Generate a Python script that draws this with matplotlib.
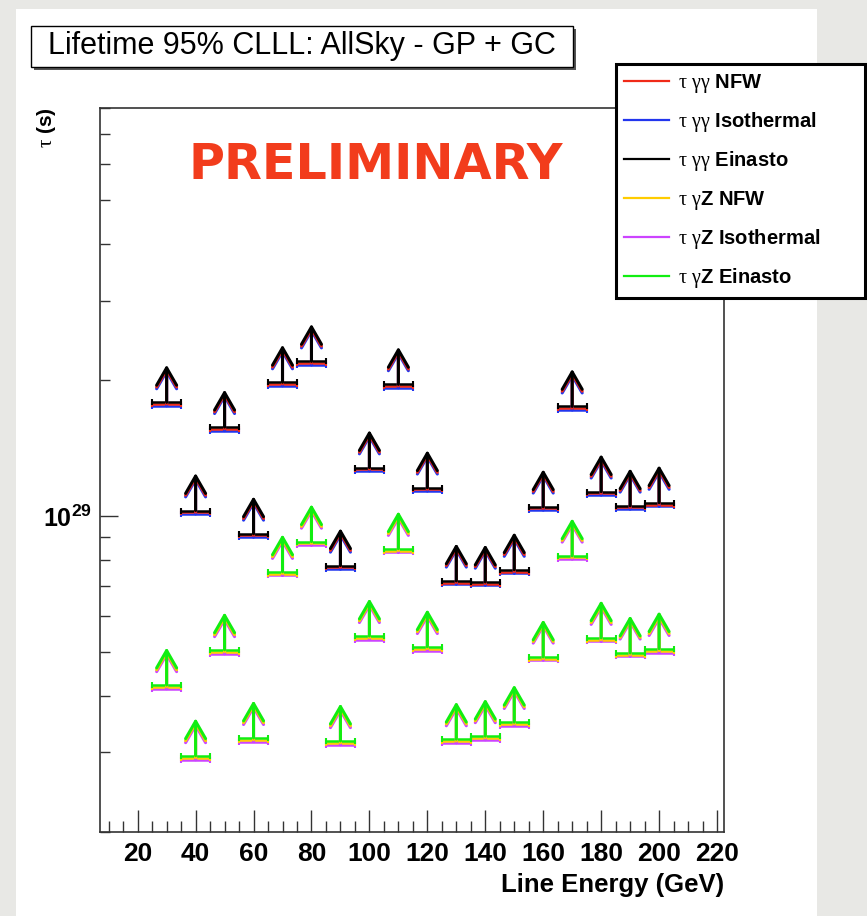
import numpy as np
import matplotlib
matplotlib.use('Agg')
import matplotlib.pyplot as plt
from matplotlib.lines import Line2D
from matplotlib.patches import Rectangle
from matplotlib.ticker import MultipleLocator, LogLocator, NullFormatter

plt.rcParams['mathtext.fontset'] = 'custom'
plt.rcParams['mathtext.rm'] = 'Liberation Serif'
plt.rcParams['mathtext.it'] = 'Liberation Serif'
plt.rcParams['mathtext.bf'] = 'Liberation Sans:bold'

# line energies (GeV)
energy = [30, 40, 50, 60, 70, 80, 90, 100, 110, 120, 130, 140, 150, 160, 170, 180, 190, 200]

# lower limits on lifetime, units of 1e29 s
gg_nfw = [1.770, 1.020, 1.560, 0.906, 1.960, 2.180, 0.770, 1.270, 1.940, 1.146, 0.713, 0.709, 0.754, 1.040, 1.733, 1.123, 1.045, 1.061]
gg_iso = [1.754, 1.011, 1.546, 0.898, 1.942, 2.160, 0.763, 1.259, 1.923, 1.136, 0.707, 0.703, 0.747, 1.031, 1.717, 1.113, 1.036, 1.051]
gg_ein = [1.786, 1.029, 1.574, 0.914, 1.978, 2.200, 0.777, 1.281, 1.957, 1.156, 0.719, 0.715, 0.761, 1.049, 1.749, 1.133, 1.054, 1.071]
gz_nfw = [0.419, 0.292, 0.501, 0.320, 0.746, 0.870, 0.315, 0.538, 0.839, 0.509, 0.318, 0.323, 0.347, 0.484, 0.810, 0.533, 0.494, 0.504]
gz_iso = [0.415, 0.289, 0.496, 0.317, 0.739, 0.862, 0.312, 0.533, 0.831, 0.504, 0.315, 0.320, 0.344, 0.480, 0.803, 0.528, 0.490, 0.499]
gz_ein = [0.423, 0.295, 0.506, 0.323, 0.753, 0.878, 0.318, 0.543, 0.847, 0.514, 0.321, 0.326, 0.350, 0.488, 0.817, 0.538, 0.498, 0.509]

labels = [r'$\tau\ \gamma\gamma$ NFW', r'$\tau\ \gamma\gamma$ Isothermal', r'$\tau\ \gamma\gamma$ Einasto',
          r'$\tau\ \gamma$Z NFW', r'$\tau\ \gamma$Z Isothermal', r'$\tau\ \gamma$Z Einasto']
colors = ['#f02a18', '#2236ee', '#000000', '#ffcc00', '#cc44ff', '#11ee11']
xticks = [20, 40, 60, 80, 100, 120, 140, 160, 180, 200, 220]

W, H = 867, 916
fig = plt.figure(figsize=(W / 100, H / 100), dpi=100)
fig.patch.set_facecolor('#e8e8e5')
fig.add_artist(Rectangle((16 / W, 0), (817 - 16) / W, (H - 9) / H, transform=fig.transFigure,
                         facecolor='white', edgecolor='none', zorder=-10))

ax = fig.add_axes([100 / W, (H - 832) / H, 624 / W, 724 / H])
ax.set_yscale('log')
ax.set_xlim(7, 222.4)
ax.set_ylim(2e28, 8e29)

# draw order: iso, nfw, einasto (einasto on top)
order = [(gg_iso, colors[1]), (gg_nfw, colors[0]), (gg_ein, colors[2]),
         (gz_iso, colors[4]), (gz_nfw, colors[3]), (gz_ein, colors[5])]
for vals, col in order:
    v = np.array(vals) * 1e29
    ax.errorbar(energy, v, xerr=5, fmt='none', ecolor=col, elinewidth=1.8, capsize=2.5, capthick=1.5)
    for e, val in zip(energy, v):
        ax.annotate('', xy=(e, val), xytext=(0, 27), textcoords='offset points',
                    arrowprops=dict(arrowstyle='<-, head_length=1.25, head_width=0.72',
                                    color=col, lw=2.2, shrinkA=0, shrinkB=0))

ax.set_xticks(xticks, labels=[str(t) for t in xticks], fontsize=19, fontweight='bold', family='Liberation Sans')
ax.xaxis.set_minor_locator(MultipleLocator(5))
ax.set_yticks([1e29], labels=[r'$\mathbf{10^{29}}$'], fontsize=18)
ax.yaxis.set_minor_locator(LogLocator(base=10, subs=np.arange(2, 10)))
ax.yaxis.set_minor_formatter(NullFormatter())
ax.tick_params(axis='x', which='major', direction='in', length=16, width=1, pad=7, color='#333333')
ax.tick_params(axis='x', which='minor', direction='in', length=8, width=1, color='#333333')
ax.tick_params(axis='y', which='major', direction='in', length=13, width=1, pad=6, color='#333333')
ax.tick_params(axis='y', which='minor', direction='in', length=7, width=1, color='#333333')
for s in ax.spines.values():
    s.set_color('#333333')
    s.set_linewidth(1.2)

ax.set_xlabel('Line Energy (GeV)', loc='right', fontsize=18.5, fontweight='bold',
              family='Liberation Sans', labelpad=5)
fig.text(47 / W, (H - 107) / H, r'$\tau$ (s)', rotation=90, ha='center', va='top',
         fontsize=15, fontweight='bold', family='Liberation Sans')

handles = [Line2D([], [], color=c, lw=1.6) for c in colors]
leg = ax.legend(handles, labels, loc='upper left',
                bbox_to_anchor=(616 / W, (H - 298) / H, (865 - 616) / W, (298 - 64) / H),
                bbox_transform=fig.transFigure, mode='expand', borderaxespad=0,
                prop={'weight': 'bold', 'size': 14.5, 'family': 'Liberation Sans'},
                handlelength=2.2, handletextpad=0.45, labelspacing=0.75, borderpad=0.41,
                fancybox=False, framealpha=1, edgecolor='black')
leg.get_frame().set_linewidth(2.2)
leg.set_zorder(10)

# title pave with shadow
fig.add_artist(Rectangle((34 / W, (H - 70) / H), 542 / W, 41 / H, transform=fig.transFigure,
                         facecolor='#555555', edgecolor='none'))
fig.add_artist(Rectangle((31 / W, (H - 67) / H), 542 / W, 41 / H, transform=fig.transFigure,
                         facecolor='white', edgecolor='black', lw=1))
fig.text(302 / W, (H - 46) / H, 'Lifetime 95% CLLL: AllSky - GP + GC', ha='center', va='center',
         fontsize=22, family='Liberation Sans')

fig.text(376 / W, (H - 165) / H, 'PRELIMINARY', color='#f23c1c', fontsize=35.5,
         fontweight='bold', family='DejaVu Sans', ha='center', va='center')

fig.savefig('out.png', dpi=100)
